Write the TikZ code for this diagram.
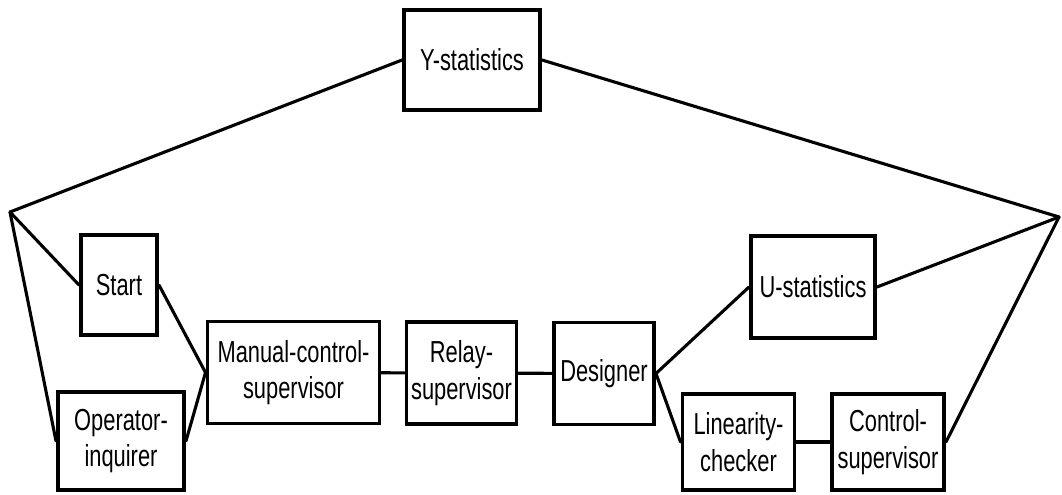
\documentclass[tikz,border=0pt]{standalone}
\usepackage{fontspec}
\setmainfont[FakeStretch=0.72]{Liberation Sans}
\usepackage{tikz}
\usetikzlibrary{positioning}
\tikzset{
  module/.style={rectangle, draw=black, line width=2.8pt, fill=white, align=center, inner sep=2pt, font=\fontsize{21.6}{26}\selectfont},
  link/.style={line width=2.2pt, line cap=round, line join=round},
}

\begin{document}
\begin{tikzpicture}[x=0.025cm, y=-0.025cm]
\useasboundingbox (0,0) rectangle (1062,494);

% junction points at the sides
\coordinate (lj) at (10,212);
\coordinate (rj) at (1059,217);

% modules
\node[module, minimum width=3.4cm, minimum height=2.5cm] (ystat) at (472,60) {Y-statistics};
\node[module, minimum width=1.9cm, minimum height=2.5cm] (start) at (119,285) {Start};
\node[module, minimum width=3.15cm, minimum height=2.45cm] (oper) at (121,441) {Operator-\\inquirer};
\node[module, minimum width=4.3cm, minimum height=2.55cm] (manual) at (293.5,372.5) {Manual-control-\\supervisor};
\node[module, minimum width=2.75cm, minimum height=2.55cm] (relay) at (461.5,373) {Relay-\\supervisor};
\node[module, minimum width=2.5cm, minimum height=2.55cm] (design) at (604,373.5) {Designer};
\node[module, minimum width=3.1cm, minimum height=2.55cm] (ustat) at (813,287) {U-statistics};
\node[module, minimum width=2.8cm, minimum height=2.4cm] (lin) at (738.5,442) {Linearity-\\checker};
\node[module, minimum width=2.8cm, minimum height=2.4cm] (ctrl) at (888,442) {Control-\\supervisor};

% connections
\draw[link] (ystat.west) -- (lj); \draw[link] (ystat.east) -- (rj);
\draw[link] (lj) -- (start.west); \draw[link] (lj) -- (oper.west);
\draw[link] (start.east) -- (manual.west); \draw[link] (oper.east) -- (manual.west);
\draw[link] (manual) -- (relay); \draw[link] (relay) -- (design);
\draw[link] (design.east) -- (ustat.west); \draw[link] (design.east) -- (lin.west);
\draw[link] (lin) -- (ctrl);
\draw[link] (ustat.east) -- (rj); \draw[link] (ctrl.east) -- (rj);
\end{tikzpicture}
\end{document}
